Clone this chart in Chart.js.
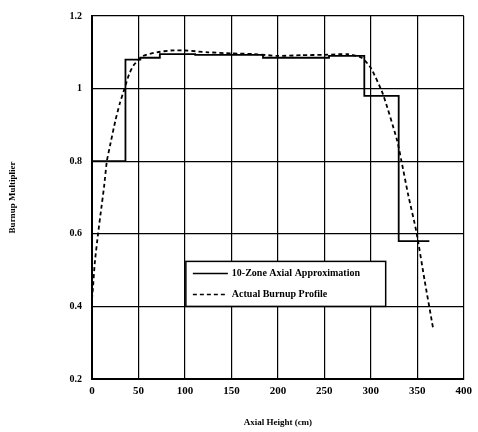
<!DOCTYPE html>
<html>
<head>
<meta charset="utf-8">
<script src="https://cdn.jsdelivr.net/npm/chart.js@4"></script>
<style>
  body { margin: 0; background: #fff; }
  #wrap { width: 478px; height: 432px; }
</style>
</head>
<body>
<div id="wrap"><canvas id="burnup"></canvas></div>
<script>
// 10-zone approximation: zone start heights and multipliers, last zone ends at zoneEnd
const zoneStart = [0, 36, 52, 73, 111, 184, 255, 293, 330];
const zoneValue = [0.80, 1.08, 1.085, 1.095, 1.093, 1.085, 1.09, 0.98, 0.58];
const zoneEnd = 363;

// actual burnup profile
const profileHeight = [0, 1, 3, 6.5, 10, 13, 16, 20, 25, 30, 35, 40, 45, 55, 70, 85, 100, 125, 150, 175, 200, 225, 250, 275, 290, 300, 313, 328, 333, 340, 349, 358, 367];
const profileValue = [0.42, 0.45, 0.52, 0.60, 0.67, 0.73, 0.80, 0.85, 0.91, 0.96, 1.00, 1.04, 1.065, 1.09, 1.10, 1.105, 1.105, 1.10, 1.097, 1.095, 1.09, 1.092, 1.093, 1.095, 1.085, 1.057, 0.985, 0.86, 0.80, 0.71, 0.606, 0.47, 0.34];

const xTicks = [0, 50, 100, 150, 200, 250, 300, 350, 400];
const yTicks = [0.2, 0.4, 0.6, 0.8, 1.0, 1.2];

const legendLabels = ["10-Zone Axial Approximation", "Actual Burnup Profile"];

const serif = "'Liberation Serif', 'DejaVu Serif', serif";

let stepPts = zoneStart.map((x, i) => ({x: x, y: zoneValue[i]}));
stepPts.push({x: zoneEnd, y: zoneValue[zoneValue.length - 1]});
let profilePts = profileHeight.map((x, i) => ({x: x, y: profileValue[i]}));

// legend box drawn inside the plot like the original figure
const boxLegend = {
    id: "boxLegend",
    afterDatasetsDraw(chart) {
        const ctx = chart.ctx;
        const xs = chart.scales.x, ys = chart.scales.y;
        const left = xs.getPixelForValue(101), right = xs.getPixelForValue(316);
        const top = ys.getPixelForValue(0.524), bottom = ys.getPixelForValue(0.40);
        ctx.save();
        ctx.fillStyle = "#fff";
        ctx.fillRect(left, top, right - left, bottom - top);
        ctx.strokeStyle = "#000";
        ctx.lineWidth = 1.5;
        ctx.strokeRect(left, top, right - left, bottom - top);
        ctx.font = "bold 10px " + serif;
        ctx.fillStyle = "#000";
        ctx.textBaseline = "middle";
        let rows = [top + 12, top + 33];
        ctx.lineWidth = 1.5;
        ctx.beginPath();
        ctx.setLineDash([]);
        ctx.moveTo(left + 7, rows[0]); ctx.lineTo(left + 42, rows[0]);
        ctx.stroke();
        ctx.beginPath();
        ctx.setLineDash([4, 3]);
        ctx.moveTo(left + 7, rows[1]); ctx.lineTo(left + 42, rows[1]);
        ctx.stroke();
        ctx.setLineDash([]);
        ctx.fillText(legendLabels[0], left + 46, rows[0]);
        ctx.fillText(legendLabels[1], left + 46, rows[1]);
        ctx.restore();
    }
};

new Chart(document.getElementById("burnup"), {
    type: "line",
    data: {
        datasets: [{
            label: legendLabels[0],
            data: stepPts,
            stepped: "before",
            borderColor: "#000",
            borderWidth: 1.8,
            pointRadius: 0,
            fill: false
        }, {
            label: legendLabels[1],
            data: profilePts,
            borderColor: "#000",
            borderWidth: 1.8,
            borderDash: [4, 3],
            tension: 0.2,
            pointRadius: 0,
            fill: false
        }]
    },
    options: {
        animation: false,
        responsive: true,
        maintainAspectRatio: false,
        layout: { padding: { left: 0, right: 14, top: 12, bottom: 0 } },
        plugins: {
            legend: { display: false },
            tooltip: { enabled: false }
        },
        scales: {
            x: {
                type: "linear",
                min: 0, max: 400,
                afterBuildTicks: (s) => { s.ticks = xTicks.map(v => ({value: v})); },
                afterFit: (s) => { s.height = 53; },
                grid: { color: "#000", lineWidth: 1.2, drawTicks: false },
                border: { color: "#000", width: 2 },
                ticks: { color: "#000", padding: 6, font: { family: serif, size: 11, weight: "bold" } },
                title: { display: true, text: "Axial Height (cm)", color: "#000", padding: { top: 6 }, font: { family: serif, size: 9, weight: "bold" } }
            },
            y: {
                min: 0.2, max: 1.2,
                afterBuildTicks: (s) => { s.ticks = yTicks.map(v => ({value: v})); },
                afterFit: (s) => { s.width = 92; },
                grid: { color: "#000", lineWidth: 1.2, drawTicks: false },
                border: { color: "#000", width: 2 },
                ticks: { color: "#000", padding: 10, font: { family: serif, size: 10, weight: "bold" },
                    callback: (v) => String(Math.round(v * 10) / 10) },
                title: { display: true, text: "Burnup Multiplier", color: "#000", padding: { top: 7, bottom: 0 }, font: { family: serif, size: 9, weight: "bold" } }
            }
        }
    },
    plugins: [boxLegend]
});
</script>
</body>
</html>
